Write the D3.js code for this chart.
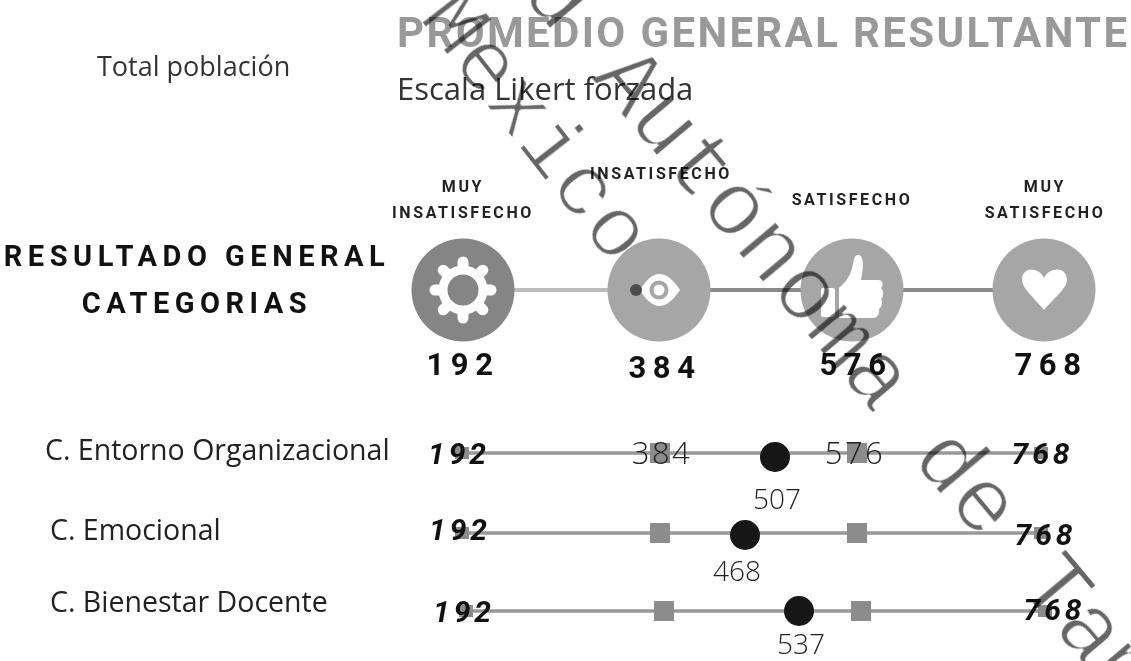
<!DOCTYPE html>
<html>
<head>
<meta charset="utf-8">
<script src="https://cdn.jsdelivr.net/npm/d3@7"></script>
<style>
  body { margin: 0; background: #fff; }
  svg { display: block; }
</style>
</head>
<body>
<script>
// scale points
const levels = [192, 384, 576, 768];
const levelNames = [["MUY", "INSATISFECHO"], ["INSATISFECHO"], ["SATISFECHO"], ["MUY", "SATISFECHO"]];

// categories and their resulting average
const categories = ["C. Entorno Organizacional", "C. Emocional", "C. Bienestar Docente"];
const averages = [507, 468, 537];

const width = 1131;
const height = 661;

const svg = d3.select("body").append("svg")
    .attr("width", width)
    .attr("height", height);

const sans = "'Roboto', sans-serif";
const open = "'Open Sans', sans-serif";

// Scales
const headX = d3.scaleLinear().domain(levels).range([463, 659, 852, 1044]);
// picture is not to scale, so the averages get their own knots
const rowX = d3.scaleLinear()
    .domain([192, 384, 468, 507, 537, 576, 768])
    .range([462, 660, 745, 775, 795, 857, 1041]);
const rowY = d3.scaleOrdinal().domain(categories).range([453, 533, 611]);
const rowShift = [0, 0, 4];

// helper for plain text
const label = (x, y, txt, size, opts = {}) => svg.append("text")
    .attr("x", x)
    .attr("y", y)
    .attr("text-anchor", opts.anchor || "start")
    .attr("font-family", opts.family || sans)
    .attr("font-size", size)
    .attr("font-weight", opts.weight || "normal")
    .attr("font-style", opts.style || "normal")
    .attr("letter-spacing", opts.spacing || 0)
    .attr("fill", opts.fill || "#222")
    .text(txt);

// Titles
label(397, 47, "PROMEDIO GENERAL RESULTANTE", 42, { weight: "bold", fill: "#999", spacing: 2.35 });
label(397, 100, "Escala Likert forzada", 31, { family: open, fill: "#333" });
label(97, 76, "Total población", 27, { family: open, fill: "#333" });
label(197, 266, "RESULTADO GENERAL", 29, { weight: "bold", anchor: "middle", spacing: 5.5, fill: "#111" });
label(197, 313, "CATEGORIAS", 29, { weight: "bold", anchor: "middle", spacing: 5.5, fill: "#111" });

// Header: level names
const nameY = [[192, 218], [179], [205], [192, 218]];
levels.forEach((lv, i) => {
    levelNames[i].forEach((line, j) => {
        label(headX(lv) + (i === 3 ? 1 : i === 1 ? 2 : 0), nameY[i][j], line, 16, { weight: "bold", anchor: "middle", spacing: 2.6 });
    });
});

// Header: connectors and circles
d3.pairs(levels).forEach(([a, b], i) => {
    svg.append("line")
        .attr("x1", headX(a)).attr("x2", headX(b))
        .attr("y1", 290).attr("y2", 290)
        .attr("stroke", i === 0 ? "#bdbdbd" : "#8a8a8a")
        .attr("stroke-width", 4);
});
svg.selectAll(".head")
    .data(levels)
    .enter().append("circle")
    .attr("class", "head")
    .attr("cx", d => headX(d))
    .attr("cy", 290)
    .attr("r", 51.5)
    .attr("fill", (d, i) => i === 0 ? "#858585" : "#a6a6a6");

// Icons, drawn around the circle centre
const icon = i => svg.append("g").attr("transform", `translate(${headX(levels[i])},290)`);

const gear = icon(0);
d3.range(8).forEach(k => {
    gear.append("line")
        .attr("y1", -22).attr("y2", -28)
        .attr("transform", `rotate(${k * 45})`)
        .attr("stroke", "#fff")
        .attr("stroke-width", 11)
        .attr("stroke-linecap", "round");
});
gear.append("circle").attr("r", 20).attr("fill", "#858585").attr("stroke", "#fff").attr("stroke-width", 9);

const eye = icon(1);
eye.append("path")
    .attr("d", "M-19,0 Q0,-32 21,0 Q0,32 -19,0Z")
    .attr("fill", "#fff");
eye.append("circle").attr("r", 7.5).attr("fill", "#fff").attr("stroke", "#a6a6a6").attr("stroke-width", 4);
eye.append("ellipse").attr("cx", -23).attr("cy", 0).attr("rx", 6).attr("ry", 6).attr("fill", "#4d4d4d");

const thumb = icon(2);
thumb.append("rect").attr("x", -31).attr("y", -2).attr("width", 14).attr("height", 29).attr("rx", 2).attr("fill", "#fff");
thumb.append("path")
    .attr("d", "M-13,-2 C-6,-8 -2,-14 0,-22 C2,-30 2,-35 6,-35 C12,-35 12,-24 9,-10 L26,-10 C31,-10 32,-5 29,-2 C32,1 32,6 29,9 C31,12 30,17 27,19 C28,24 25,28 21,28 L-13,28 Z")
    .attr("fill", "#fff");

const heart = icon(3);
heart.append("path")
    .attr("d", "M0,20 C-10,8 -22,-2 -22,-10 C-22,-24 -5,-23 0,-12 C5,-23 23,-24 23,-10 C23,-2 10,8 0,20Z")
    .attr("fill", "#fff");

// Header: numbers
const numY = [375, 378, 375, 375];
const numDx = [0, 6, 4, 7];
levels.forEach((lv, i) => {
    label(headX(lv) + numDx[i], numY[i], lv, 31, { weight: "bold", anchor: "middle", spacing: 6.5, fill: "#111" });
});

// Rows
const labelX = [45, 50, 50];
const labelY = [460, 540, 612];
const avgDx = [2, -8, 2];
const avgY = [509, 581, 654];
const endY = [[464, 464], [540, 545], [622, 620]];
const endDx = [[-3, 1.5], [-2, 4.5], [-2, 9.5]];

categories.forEach((cat, i) => {
    const y = rowY(cat);
    const x = v => rowX(v) + rowShift[i];

    label(labelX[i], labelY[i], cat, 28.5, { family: open, fill: "#222" });

    svg.append("line")
        .attr("x1", x(192) + 6).attr("x2", x(768))
        .attr("y1", y).attr("y2", y)
        .attr("stroke", "#999")
        .attr("stroke-width", 3.5);

    // small squares at the ends, big ones in the middle
    svg.selectAll(".sq" + i)
        .data(levels)
        .enter().append("rect")
        .attr("class", "sq" + i)
        .attr("x", d => x(d) - (d === 192 || d === 768 ? 7 : 10))
        .attr("y", d => y - (d === 192 || d === 768 ? 6 : 10))
        .attr("width", d => d === 192 || d === 768 ? 14 : 20)
        .attr("height", d => d === 192 || d === 768 ? 12 : 20)
        .attr("fill", "#8c8c8c");

    svg.append("circle")
        .attr("cx", x(averages[i]))
        .attr("cy", y + 4 - i * 2)
        .attr("r", 15)
        .attr("fill", "#161616");

    label(x(averages[i]) + avgDx[i], avgY[i], averages[i], 28, { family: open, weight: 300, anchor: "middle", fill: "#222" });

    label(x(192) + endDx[i][0], endY[i][0], 192, 30, { weight: "bold", style: "italic", anchor: "middle", spacing: 4, fill: "#111" });
    label(x(768) + endDx[i][1], endY[i][1], 768, 30, { weight: "bold", style: "italic", anchor: "middle", spacing: 4, fill: "#111" });
});

// the two thin level numbers on the first row
[384, 576].forEach(v => {
    label(rowX(v) + (v === 384 ? 2 : -2), 464, v, 31, { family: open, weight: 300, anchor: "middle", spacing: 2.5, fill: "#222" });
});

// Watermark on top of everything, eroded a bit to get its thin strokes
const defs = svg.append("defs");
defs.append("filter").attr("id", "thin")
    .attr("x", "-5%").attr("y", "-50%").attr("width", "110%").attr("height", "200%")
    .append("feMorphology")
    .attr("operator", "erode")
    .attr("radius", 1);

const marks = svg.append("g").style("mix-blend-mode", "multiply");
marks.append("text")
    .attr("transform", "translate(418,18) rotate(52)")
    .attr("font-family", "'Liberation Mono', monospace")
    .attr("font-size", 88)
    .attr("fill", "#666")
    .attr("filter", "url(#thin)")
    .text("Mexico");
marks.append("text")
    .attr("transform", "translate(165,-430) rotate(50)")
    .attr("font-family", "'Liberation Mono', monospace")
    .attr("font-size", 92)
    .attr("fill", "#666")
    .attr("filter", "url(#thin)")
    .text("Universidad Autónoma de Tamaulipas");
</script>
</body>
</html>
